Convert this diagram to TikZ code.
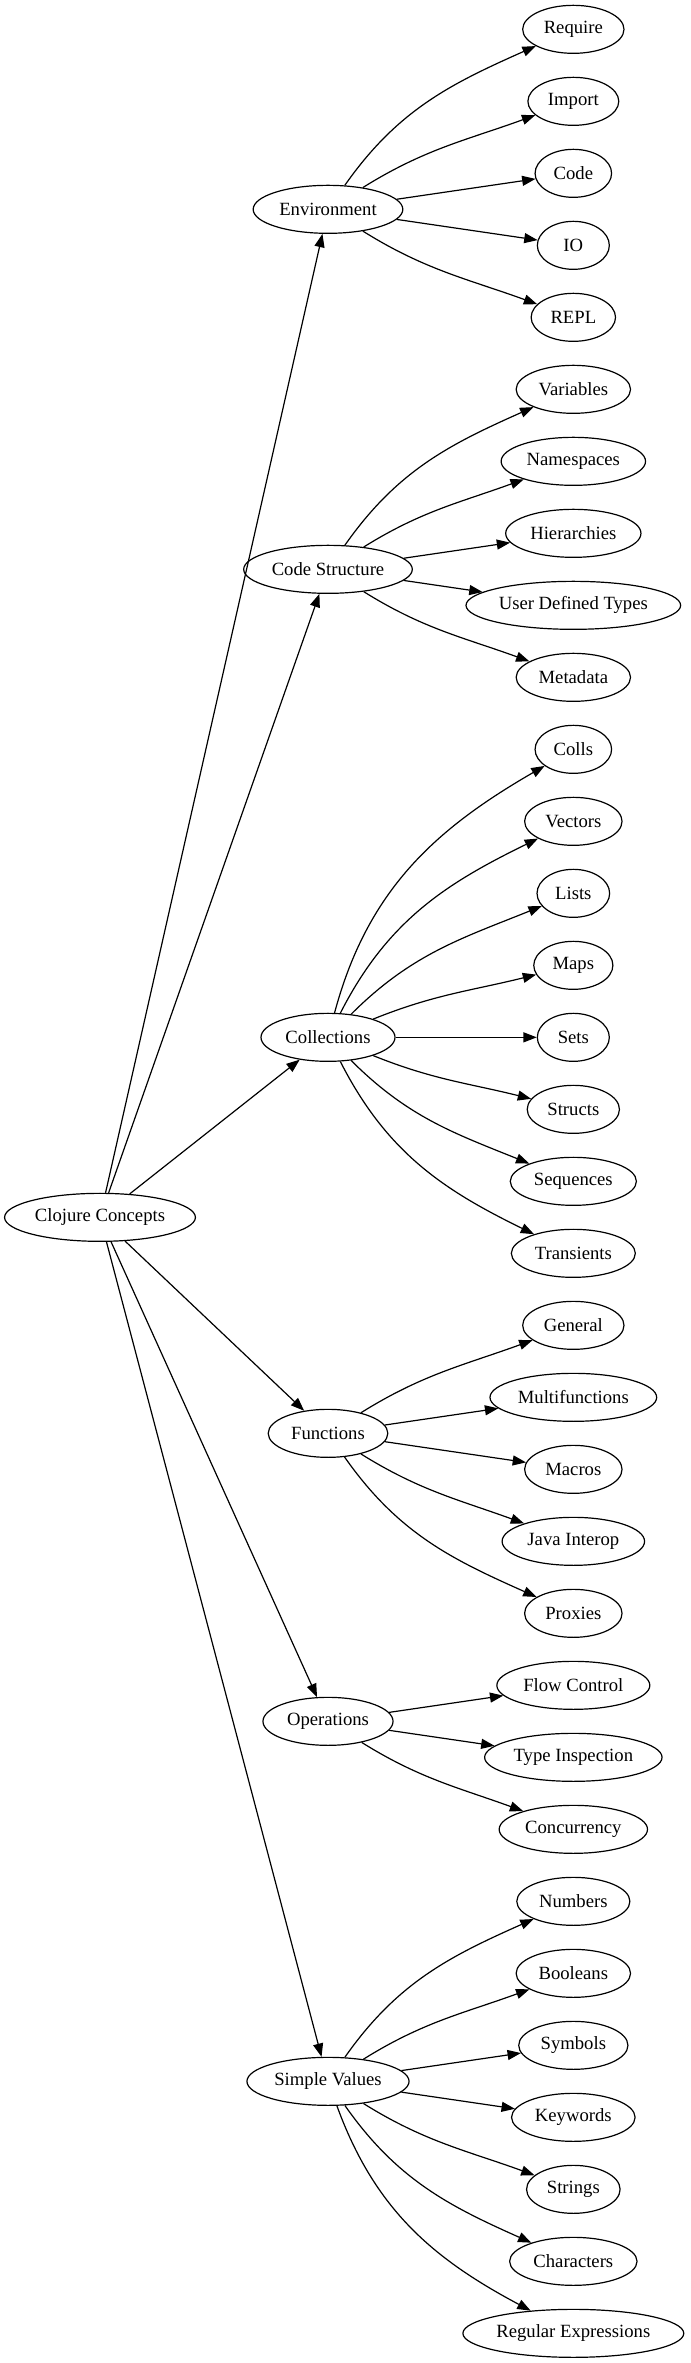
\documentclass[tikz,border=0pt]{standalone}
\usepackage{fontspec}
\setmainfont{Liberation Serif}
\usetikzlibrary{arrows.meta,shapes.geometric}
\tikzset{
  gv/.style={draw, ellipse, line width=0.9pt, inner sep=0pt, minimum height=36pt},
  gvedge/.style={line width=0.9pt, -{Triangle[length=10pt,width=7.5pt]}}
}
\newcommand\gvn[3]{\node[gv,minimum width={max(54,1.26*(width("#3")+16))}] (#1) at (#2) {\makebox[0pt]{#3}};}
\newcommand\gvc[4]{\draw[gvedge] (#1) to[out=#3,in=#4] (#2);}
\newcommand\gvs[2]{\draw[gvedge] (#1) -- (#2);}
\begin{document}
\begin{tikzpicture}[x=1pt,y=1pt]
\fontsize{14pt}{16.8pt}\selectfont
\useasboundingbox (0,0) rectangle (518.25,-1772.25);
% root
\gvn{root}{75,-913}{Clojure Concepts}
% rank 1
\gvn{env}{246,-157}{Environment}
\gvn{cs}{246,-427}{Code Structure}
\gvn{col}{246,-778}{Collections}
\gvn{fun}{246,-1075}{Functions}
\gvn{ops}{246,-1291}{Operations}
\gvn{sv}{246,-1561}{Simple Values}
% leaves
\gvn{req}{430,-22}{Require}
\gvn{imp}{430,-76}{Import}
\gvn{code}{430,-130}{Code}
\gvn{io}{430,-184}{IO}
\gvn{repl}{430,-238}{REPL}
\gvn{var}{430,-292}{Variables}
\gvn{ns}{430,-346}{Namespaces}
\gvn{hier}{430,-400}{Hierarchies}
\gvn{udt}{430,-454}{User Defined Types}
\gvn{meta}{430,-508}{Metadata}
\gvn{colls}{430,-562}{Colls}
\gvn{vec}{430,-616}{Vectors}
\gvn{lists}{430,-670}{Lists}
\gvn{maps}{430,-724}{Maps}
\gvn{sets}{430,-778}{Sets}
\gvn{structs}{430,-832}{Structs}
\gvn{seq}{430,-886}{Sequences}
\gvn{trans}{430,-940}{Transients}
\gvn{gen}{430,-994}{General}
\gvn{multi}{430,-1048}{Multifunctions}
\gvn{mac}{430,-1102}{Macros}
\gvn{java}{430,-1156}{Java Interop}
\gvn{prox}{430,-1210}{Proxies}
\gvn{flow}{430,-1264}{Flow Control}
\gvn{type}{430,-1318}{Type Inspection}
\gvn{conc}{430,-1372}{Concurrency}
\gvn{num}{430,-1426}{Numbers}
\gvn{bool}{430,-1480}{Booleans}
\gvn{sym}{430,-1534}{Symbols}
\gvn{kw}{430,-1588}{Keywords}
\gvn{str}{430,-1642}{Strings}
\gvn{chr}{430,-1696}{Characters}
\gvn{rex}{430,-1750}{Regular Expressions}
% root edges
\gvs{root}{env}
\gvs{root}{cs}
\gvs{root}{col}
\gvs{root}{fun}
\gvs{root}{ops}
\gvs{root}{sv}
% environment
\gvc{env}{req}{55}{204}
\gvc{env}{imp}{32}{200}
\gvs{env}{code}
\gvs{env}{io}
\gvc{env}{repl}{-32}{160}
% code structure
\gvc{cs}{var}{55}{204}
\gvc{cs}{ns}{32}{200}
\gvs{cs}{hier}
\gvs{cs}{udt}
\gvc{cs}{meta}{-32}{160}
% collections
\gvc{col}{colls}{75}{210}
\gvc{col}{vec}{63}{206}
\gvc{col}{lists}{45}{202}
\gvc{col}{maps}{22}{194}
\gvs{col}{sets}
\gvc{col}{structs}{-22}{166}
\gvc{col}{seq}{-45}{158}
\gvc{col}{trans}{-63}{154}
% functions
\gvc{fun}{gen}{32}{200}
\gvs{fun}{multi}
\gvs{fun}{mac}
\gvc{fun}{java}{-32}{160}
\gvc{fun}{prox}{-55}{156}
% operations
\gvs{ops}{flow}
\gvs{ops}{type}
\gvc{ops}{conc}{-32}{160}
% simple values
\gvc{sv}{num}{55}{204}
\gvc{sv}{bool}{32}{200}
\gvs{sv}{sym}
\gvs{sv}{kw}
\gvc{sv}{str}{-32}{160}
\gvc{sv}{chr}{-55}{156}
\gvc{sv}{rex}{-70}{152}
\end{tikzpicture}
\end{document}
